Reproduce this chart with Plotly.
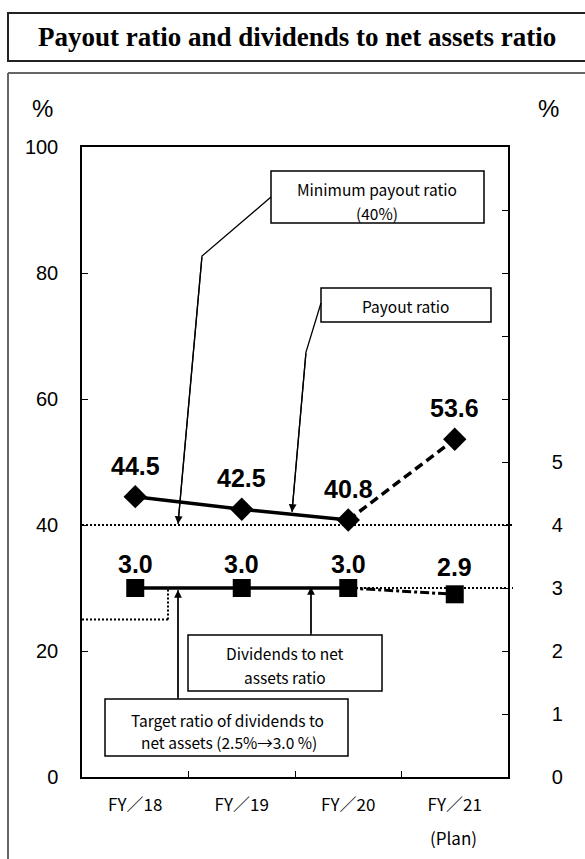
import plotly.graph_objects as go

# ---------------- data ----------------
categories = ["FY／18", "FY／19", "FY／20", "FY／21"]
is_plan = [False, False, False, True]
payout_ratio = [44.5, 42.5, 40.8, 53.6]          # left axis (%)
dividends_ratio = [3.0, 3.0, 3.0, 2.9]           # right axis (%)
min_payout_ratio = 40                            # left axis (%)
target_div_before = 2.5                          # right axis (%)
target_div_after = 3.0                           # right axis (%)
left_tickvals = [0, 20, 40, 60, 80, 100]
right_tickvals = [0, 1, 2, 3, 4, 5, 6, 7, 8, 9]
right_ticktext = ["0", "1", "2", "3", "4", "5", "", "", "", ""]
plan_label = "(Plan)"
title_text = "Payout ratio and dividends to net assets ratio"

# ---------------- geometry helpers (layout only) ----------------
W, H = 585, 859
L, R, T, B = 82, 508, 147, 777


def px(x):
    return (x - L) / (R - L)


def py(y):
    return (B - y) / (B - T)


xs = list(range(len(categories)))
act = [i for i, p in enumerate(is_plan) if not p]
plan = [i for i, p in enumerate(is_plan) if p]
plan_seg = [act[-1]] + plan

BLACK = "black"
LABEL_FONT = dict(family="Liberation Sans, Arial", size=25, color=BLACK)
BOX_FONT = dict(family="Noto Sans CJK JP", size=15.5, color=BLACK)

fig = go.Figure()

# payout ratio (left axis)
fig.add_trace(go.Scatter(x=[xs[i] for i in act], y=[payout_ratio[i] for i in act],
                         mode="lines", line=dict(color=BLACK, width=3.5), yaxis="y",
                         hoverinfo="skip"))
fig.add_trace(go.Scatter(x=[xs[i] for i in plan_seg], y=[payout_ratio[i] for i in plan_seg],
                         mode="lines", line=dict(color=BLACK, width=3.5, dash="9px,5px"),
                         yaxis="y", hoverinfo="skip"))
fig.add_trace(go.Scatter(x=xs, y=payout_ratio, mode="markers",
                         marker=dict(symbol="diamond", size=18, color=BLACK), yaxis="y"))

# dividends to net assets ratio (right axis)
fig.add_trace(go.Scatter(x=[xs[i] for i in act], y=[dividends_ratio[i] for i in act],
                         mode="lines", line=dict(color=BLACK, width=3.5), yaxis="y2",
                         hoverinfo="skip"))
fig.add_trace(go.Scatter(x=[xs[i] for i in plan_seg], y=[dividends_ratio[i] for i in plan_seg],
                         mode="lines", line=dict(color=BLACK, width=3, dash="9px,3px,3px,3px"),
                         yaxis="y2", hoverinfo="skip"))
fig.add_trace(go.Scatter(x=xs, y=dividends_ratio, mode="markers",
                         marker=dict(symbol="square", size=18, color=BLACK), yaxis="y2"))

shapes = []
annotations = []


def text_at(x, y, txt, font):
    annotations.append(dict(xref="paper", yref="paper", x=px(x), y=py(y), text=txt,
                            xanchor="center", yanchor="middle", showarrow=False, font=font))


# reference lines (dotted)
DOT = dict(color=BLACK, width=2, dash="2px,2px")
step_x = px(168)
shapes.append(dict(type="line", xref="paper", yref="y", x0=0, x1=px(513),
                   y0=min_payout_ratio, y1=min_payout_ratio, line=DOT, layer="below"))
shapes.append(dict(type="line", xref="paper", yref="y2", x0=0, x1=step_x,
                   y0=target_div_before, y1=target_div_before, line=DOT, layer="below"))
shapes.append(dict(type="line", xref="paper", yref="y2", x0=step_x, x1=step_x,
                   y0=target_div_before, y1=target_div_after, line=DOT, layer="below"))
shapes.append(dict(type="line", xref="paper", yref="y2", x0=step_x, x1=px(513),
                   y0=target_div_after, y1=target_div_after, line=DOT, layer="below"))

# frames
shapes.append(dict(type="rect", xref="paper", yref="paper", x0=px(8), x1=px(600),
                   y0=py(13), y1=py(61), line=dict(color="#222", width=2)))
shapes.append(dict(type="line", xref="paper", yref="paper", x0=px(8), x1=px(600),
                   y0=py(73), y1=py(73), line=dict(color="#666", width=2)))
shapes.append(dict(type="line", xref="paper", yref="paper", x0=px(8), x1=px(8),
                   y0=py(73), y1=py(880), line=dict(color="#666", width=2)))

# title and unit labels
text_at(297, 37, title_text, dict(family="Liberation Serif, Times New Roman", size=27,
                                  color=BLACK, weight="bold"))
for xx in (42, 548):
    text_at(xx, 108, "%", dict(family="Liberation Sans, Arial", size=24, color=BLACK))
text_at(453, 837, plan_label, dict(family="Noto Sans CJK JP", size=17, color=BLACK))

# data labels
for i, v in enumerate(payout_ratio):
    annotations.append(dict(x=xs[i], y=v, xref="x", yref="y", text=f"{v:.1f}",
                            yshift=31, showarrow=False, xanchor="center", yanchor="middle",
                            font=dict(**LABEL_FONT, weight="bold")))
for i, v in enumerate(dividends_ratio):
    annotations.append(dict(x=xs[i], y=v, xref="x", yref="y2", text=f"{v:.1f}",
                            yshift=24 if v >= target_div_after else 27, showarrow=False,
                            xanchor="center", yanchor="middle",
                            font=dict(**LABEL_FONT, weight="bold")))

# callout boxes
boxes = [
    ((271, 171, 484, 223), [("Minimum payout ratio", 377, 189), ("(40%)", 377, 213)],
     [(271, 197), (202, 256), (178, 524)]),
    ((321, 288, 491, 322), [("Payout ratio", 406, 306)],
     [(321, 303), (306, 352), (292, 512)]),
    ((188, 635, 382, 691), [("Dividends to net", 285, 653), ("assets ratio", 285, 677)],
     [(311, 635), (311, 587)]),
    ((105, 699, 348, 756), [("Target ratio of dividends to", 227, 720),
                            ("net assets (2.5%→3.0 %)", 229, 742)],
     [(178, 699), (178, 590)]),
]
for (x0, y0, x1, y1), lines, poly in boxes:
    shapes.append(dict(type="rect", xref="paper", yref="paper", x0=px(x0), x1=px(x1),
                       y0=py(y0), y1=py(y1), fillcolor="white",
                       line=dict(color=BLACK, width=1.5)))
    for txt, cx, cy in lines:
        text_at(cx, cy, txt, BOX_FONT)
    path = "M " + " L ".join(f"{px(a)},{py(b)}" for a, b in poly)
    shapes.append(dict(type="path", xref="paper", yref="paper", path=path,
                       line=dict(color=BLACK, width=1.3)))
    (tx0, ty0), (tx1, ty1) = poly[-2], poly[-1]
    annotations.append(dict(xref="paper", yref="paper", x=px(tx1), y=py(ty1), text="",
                            showarrow=True, axref="pixel", ayref="pixel",
                            ax=tx0 - tx1, ay=ty0 - ty1, arrowhead=2, arrowsize=1.2,
                            arrowwidth=1.3, arrowcolor=BLACK, standoff=0))

fig.update_layout(
    width=W, height=H,
    margin=dict(l=L, r=W - R, t=T, b=H - B, pad=0),
    paper_bgcolor="white", plot_bgcolor="white",
    showlegend=False,
    shapes=shapes, annotations=annotations,
    xaxis=dict(range=[-0.5, len(categories) - 0.5], tickmode="array", tickvals=xs,
               ticktext=categories, ticks="", showline=True, linecolor=BLACK, linewidth=1.5,
               mirror=True, showgrid=False, zeroline=False, ticklabelstandoff=12,
               tickfont=dict(family="Noto Sans CJK JP", size=17, color=BLACK),
               minor=dict(tickmode="array", tickvals=[i + 0.5 for i in xs[:-1]],
                          ticks="inside", ticklen=6, tickcolor=BLACK, tickwidth=1,
                          showgrid=False)),
    yaxis=dict(range=[0, 100], tickmode="array", tickvals=left_tickvals, ticks="inside",
               ticklen=6, tickcolor=BLACK, showline=True, linecolor=BLACK, linewidth=1.5,
               showgrid=False, zeroline=False, ticklabelstandoff=18,
               tickfont=dict(family="Liberation Sans, Arial", size=20, color=BLACK)),
    yaxis2=dict(range=[0, 10], overlaying="y", side="right", tickmode="array",
                tickvals=right_tickvals, ticktext=right_ticktext, ticks="inside",
                ticklen=6, tickcolor=BLACK, showline=True, linecolor=BLACK, linewidth=1.5,
                showgrid=False, zeroline=False, ticklabelstandoff=38,
                tickfont=dict(family="Liberation Sans, Arial", size=20, color=BLACK)),
)

fig.write_html("out.html")
